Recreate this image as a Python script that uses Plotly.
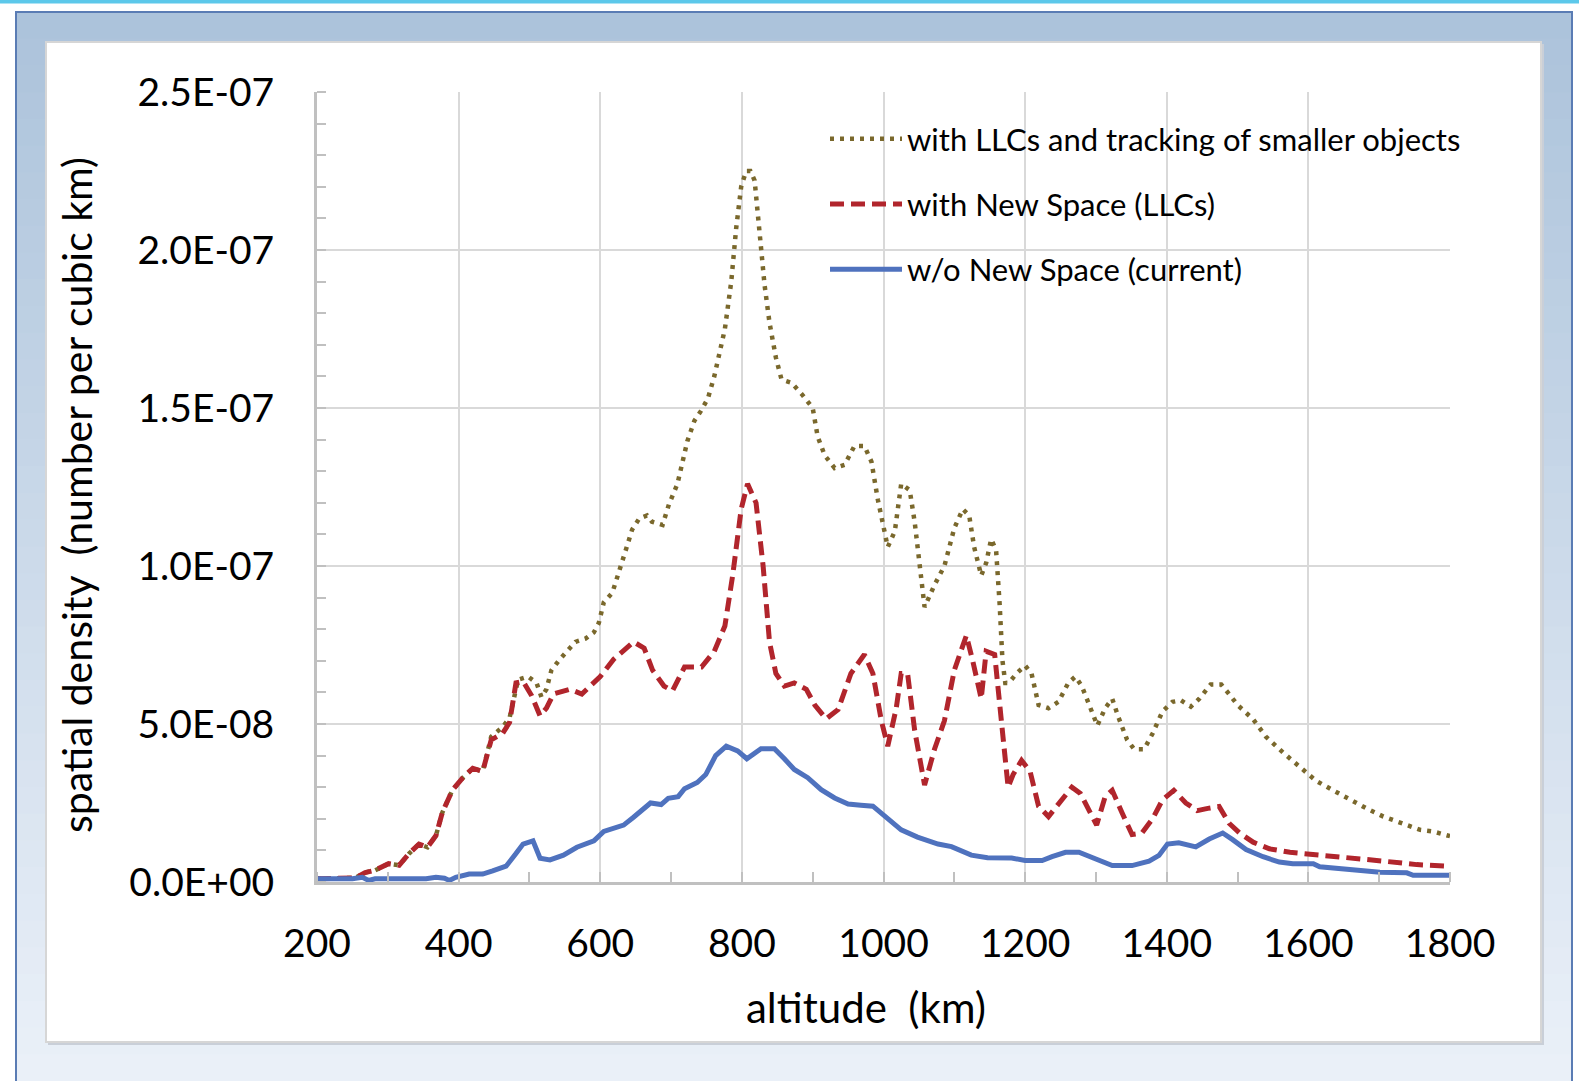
import plotly.graph_objects as go

# ---------------- data (values in units of 1e-8 per km^3) ----------------
SCALE = 1e-8

alt_current = [200, 230, 250, 264, 273, 282, 300, 320, 354, 368, 380, 387, 396, 415, 434, 448, 467, 481,
               491, 505, 515, 529, 548, 567, 591, 605, 633, 647, 671, 686, 696, 710, 719, 737, 749, 763,
               778, 794, 807, 827, 846, 860, 874, 893, 912, 931, 950, 968, 985, 1001, 1025, 1048, 1077,
               1096, 1124, 1147, 1181, 1200, 1224, 1238, 1257, 1276, 1295, 1323, 1351, 1375, 1389, 1401,
               1417, 1441, 1460, 1479, 1493, 1512, 1536, 1559, 1578, 1607, 1616, 1649, 1701, 1739, 1748, 1800]
dens_current = [0.1, 0.1, 0.1, 0.15, 0.05, 0.1, 0.1, 0.1, 0.1, 0.15, 0.12, 0.05, 0.15, 0.25, 0.25, 0.35, 0.5, 0.9,
                1.2, 1.3, 0.75, 0.7, 0.85, 1.1, 1.3, 1.6, 1.8, 2.05, 2.5, 2.45, 2.65, 2.7, 2.95, 3.15, 3.4, 4.0,
                4.3, 4.15, 3.9, 4.22, 4.22, 3.9, 3.56, 3.3, 2.92, 2.66, 2.47, 2.43, 2.4, 2.1, 1.65, 1.42, 1.2,
                1.12, 0.85, 0.77, 0.76, 0.68, 0.68, 0.8, 0.94, 0.94, 0.76, 0.52, 0.52, 0.66, 0.84, 1.2,
                1.24, 1.11, 1.36, 1.55, 1.34, 1.03, 0.8, 0.63, 0.58, 0.58, 0.48, 0.4, 0.31, 0.29, 0.21, 0.21]

alt_llc = [200, 230, 254, 268, 282, 301, 316, 330, 344, 356, 368, 377, 391, 406, 420, 434, 446, 462, 472,
           481, 491, 503, 515, 524, 534, 557, 574, 600, 619, 647, 662, 674, 690, 702, 719, 743, 761, 776,
           787, 799, 808, 820, 830, 839, 848, 860, 874, 891, 903, 919, 936, 954, 973, 985, 997, 1006, 1018,
           1025, 1034, 1044, 1058, 1072, 1086, 1100, 1117, 1126, 1138, 1145, 1157, 1166, 1176, 1183, 1195,
           1207, 1219, 1233, 1247, 1266, 1278, 1290, 1301, 1313, 1323, 1337, 1351, 1365, 1380, 1394, 1410,
           1427, 1443, 1458, 1474, 1488, 1503, 1522, 1545, 1574, 1611, 1659, 1706, 1753, 1800]
dens_llc = [0.1, 0.12, 0.13, 0.3, 0.37, 0.58, 0.53, 0.9, 1.2, 1.1, 1.47, 2.2, 2.9, 3.3, 3.6, 3.5, 4.5, 4.7, 5.05,
            6.3, 6.35, 5.9, 5.26, 5.5, 5.95, 6.1, 5.95, 6.5, 7.05, 7.6, 7.4, 6.7, 6.2, 6.05, 6.8, 6.8, 7.3, 8.1,
            9.7, 11.8, 12.6, 12.0, 10.0, 7.6, 6.6, 6.2, 6.3, 6.1, 5.6, 5.16, 5.46, 6.6, 7.2, 6.6, 5.1, 4.3, 5.5,
            6.6, 6.6, 4.8, 3.07, 4.2, 5.1, 6.7, 7.8, 7.0, 5.8, 7.3, 7.2, 5.2, 3.0, 3.4, 3.85,
            3.5, 2.4, 2.07, 2.44, 3.0, 2.8, 2.28, 1.8, 2.7, 2.9, 2.18, 1.5, 1.55, 2.0, 2.6, 2.9,
            2.5, 2.26, 2.33, 2.39, 1.86, 1.55, 1.26, 1.05, 0.94, 0.87, 0.76, 0.66, 0.55, 0.5]

alt_track = [200, 230, 254, 268, 282, 301, 316, 330, 344, 356, 368, 377, 391, 406, 420, 434, 446, 462, 472,
             484, 498, 510, 517, 524, 531, 543, 553, 565, 579, 591, 598, 605, 617, 626, 636, 645, 655, 666,
             673, 688, 697, 709, 716, 723, 733, 742, 752, 761, 776, 785, 792, 799, 806, 812, 818, 825, 832,
             839, 848, 856, 870, 886, 900, 907, 917, 931, 945, 959, 973, 983, 992, 1006, 1016, 1025, 1037,
             1044, 1051, 1058, 1072, 1086, 1100, 1112, 1121, 1128, 1138, 1145, 1152, 1159, 1164, 1168, 1172,
             1177, 1188, 1200, 1209, 1219, 1233, 1247, 1261, 1271, 1280, 1292, 1302, 1313, 1323, 1332, 1344,
             1354, 1368, 1380, 1394, 1408, 1420, 1434, 1446, 1462, 1477, 1488, 1500, 1522, 1540, 1564, 1588,
             1611, 1635, 1659, 1682, 1706, 1730, 1758, 1776, 1800]
dens_track = [0.1, 0.12, 0.13, 0.3, 0.37, 0.58, 0.53, 0.9, 1.2, 1.1, 1.47, 2.2, 2.9, 3.3, 3.6, 3.5, 4.6, 4.9, 5.2,
              6.4, 6.5, 6.3, 5.85, 6.1, 6.7, 7.05, 7.3, 7.6, 7.7, 7.9, 8.2, 8.85, 9.15, 9.85, 10.5, 11.15, 11.5, 11.6,
              11.4, 11.3, 11.95, 12.6, 13.3, 13.95, 14.6, 14.9, 15.3, 16.0, 17.5, 19.0, 20.7, 22.0, 22.5, 22.5, 22.2, 20.5, 18.9,
              17.7, 16.6, 15.9, 15.8, 15.4, 15.0, 14.1, 13.5, 13.1, 13.2, 13.8, 13.8, 13.3, 12.1, 10.6, 11.1, 12.6, 12.4,
              11.4, 10.0, 8.7, 9.4, 10.0, 11.2, 11.8, 11.6, 10.6, 9.7, 10.1, 10.85, 10.5, 8.8, 7.0, 6.3,
              6.3, 6.6, 6.85, 6.6, 5.6, 5.5, 5.7, 6.3, 6.5, 6.2, 5.5, 4.95, 5.5, 5.8, 5.2, 4.5,
              4.2, 4.2, 4.7, 5.4, 5.7, 5.75, 5.55, 5.8, 6.25, 6.25, 5.95, 5.6, 5.15, 4.6, 4.1, 3.65,
              3.2, 2.9, 2.6, 2.33, 2.07, 1.86, 1.65, 1.6, 1.45]

series_names = ["with LLCs and tracking of smaller objects",
                "with New Space (LLCs)",
                "w/o New Space (current)"]

y_tickvals = [0, 5e-8, 1e-7, 1.5e-7, 2e-7, 2.5e-7]
y_ticktext = ["0.0E+00", "5.0E-08", "1.0E-07", "1.5E-07", "2.0E-07", "2.5E-07"]
x_tickvals = [200, 400, 600, 800, 1000, 1200, 1400, 1600, 1800]
x_ticktext = ["200", "400", "600", "800", "1000", "1200", "1400", "1600", "1800"]

x_title = "altitude\u00a0 (km)"
y_title = "spatial density\u00a0 (number per cubic km)"

# ---------------- layout geometry (pixels) ----------------
W, H = 1579, 1081
PL, PR, PT, PB = 317, 1450, 92, 882
FONT = "Lato"


def xp(px):
    return (px - PL) / (PR - PL)


def yp(py):
    return (PB - py) / (PB - PT)


fig = go.Figure()

fig.add_trace(go.Scatter(
    x=alt_track, y=[v * SCALE for v in dens_track], mode="lines", name=series_names[0],
    legendgroup="a", line=dict(color="#7a682c", width=4.5, dash="4px,6px")))
fig.add_trace(go.Scatter(
    x=alt_llc, y=[v * SCALE for v in dens_llc], mode="lines", name=series_names[1],
    legendgroup="b", line=dict(color="#b1252c", width=5, dash="14px,7px")))
fig.add_trace(go.Scatter(
    x=alt_current, y=[v * SCALE for v in dens_current], mode="lines", name=series_names[2],
    legendgroup="c", line=dict(color="#4f72be", width=5)))

shapes = []
# cyan strip at very top
shapes.append(dict(type="rect", xref="paper", yref="paper", layer="below",
                   x0=xp(0), x1=xp(W), y0=yp(3.5), y1=yp(0), line=dict(width=0), fillcolor="#5cc8ea"))
# gradient frame (horizontal bands)
top_c = (172, 195, 219)
bot_c = (234, 240, 248)
f_top, f_bot = 12, H
nb = 40
for i in range(nb):
    t = i / (nb - 1)
    c = tuple(int(round(top_c[k] + (bot_c[k] - top_c[k]) * t)) for k in range(3))
    y0 = f_top + (f_bot - f_top) * i / nb
    y1 = f_top + (f_bot - f_top) * (i + 1) / nb + 1
    shapes.append(dict(type="rect", xref="paper", yref="paper", layer="below",
                       x0=xp(15), x1=xp(1573), y0=yp(y1), y1=yp(y0),
                       line=dict(width=0), fillcolor="rgb(%d,%d,%d)" % c))
# dark blue frame edges (left, top, right)
shapes.append(dict(type="path", xref="paper", yref="paper", layer="below",
                   path="M %f %f L %f %f L %f %f L %f %f" % (xp(16), yp(H), xp(16), yp(12),
                                                           xp(1572), yp(12), xp(1572), yp(H)),
                   line=dict(color="#5a7cb4", width=2)))
# panel shadow + white panel
shapes.append(dict(type="rect", xref="paper", yref="paper", layer="below",
                   x0=xp(48), x1=xp(1544), y0=yp(1045), y1=yp(44),
                   line=dict(width=0), fillcolor="#c9cfd8"))
shapes.append(dict(type="rect", xref="paper", yref="paper", layer="below",
                   x0=xp(46), x1=xp(1541), y0=yp(1042), y1=yp(42),
                   line=dict(color="#d6d6d6", width=2), fillcolor="#ffffff"))
# white legend area hiding the gridlines (above grid, below traces)
shapes.append(dict(type="rect", xref="paper", yref="paper", layer="between",
                   x0=xp(796), x1=xp(1452), y0=yp(305), y1=yp(107),
                   line=dict(width=0), fillcolor="#ffffff"))

annotations = [
    dict(text=x_title, xref="paper", yref="paper", x=xp(866), y=yp(1007), xanchor="center",
         yanchor="middle", showarrow=False, font=dict(family=FONT, size=42, color="#000000")),
    dict(text=y_title, xref="paper", yref="paper", x=xp(76), y=yp(495), xanchor="center",
         yanchor="middle", textangle=-90, showarrow=False,
         font=dict(family=FONT, size=41, color="#000000")),
]

fig.update_layout(
    width=W, height=H,
    margin=dict(l=PL, r=W - PR, t=PT, b=H - PB, pad=0),
    paper_bgcolor="#ffffff", plot_bgcolor="#ffffff",
    font=dict(family=FONT, color="#000000"),
    shapes=shapes, annotations=annotations,
    showlegend=True,
    legend=dict(x=xp(825), y=yp(112), xanchor="left", yanchor="top",
                bgcolor="rgba(255,255,255,0)", borderwidth=0, itemwidth=72, tracegroupgap=22,
                font=dict(family=FONT, size=31, color="#000000"), traceorder="grouped"),
    xaxis=dict(range=[200, 1800], tickvals=x_tickvals, ticktext=x_ticktext,
               showgrid=True, gridcolor="#d9d9d9", gridwidth=2,
               showline=True, linecolor="#c0c0c0", linewidth=3, zeroline=False,
               ticks="", ticklabelstandoff=25,
               tickfont=dict(family=FONT, size=39, color="#000000"),
               minor=dict(dtick=100, tick0=100, ticks="inside", ticklen=10, tickwidth=2,
                          tickcolor="#c0c0c0", showgrid=False)),
    yaxis=dict(range=[0, 2.5e-7], tickvals=y_tickvals, ticktext=y_ticktext,
               showgrid=True, gridcolor="#d9d9d9", gridwidth=2,
               showline=True, linecolor="#c0c0c0", linewidth=3, zeroline=False,
               ticks="", ticklabelstandoff=32,
               tickfont=dict(family=FONT, size=39, color="#000000"),
               minor=dict(dtick=1e-8, tick0=0, ticks="inside", ticklen=9, tickwidth=2,
                          tickcolor="#c0c0c0", showgrid=False)),
)

fig.write_html("out.html",
               config={"displayModeBar": False},
               post_script="document.body.style.margin='0px';document.body.style.padding='0px';")
